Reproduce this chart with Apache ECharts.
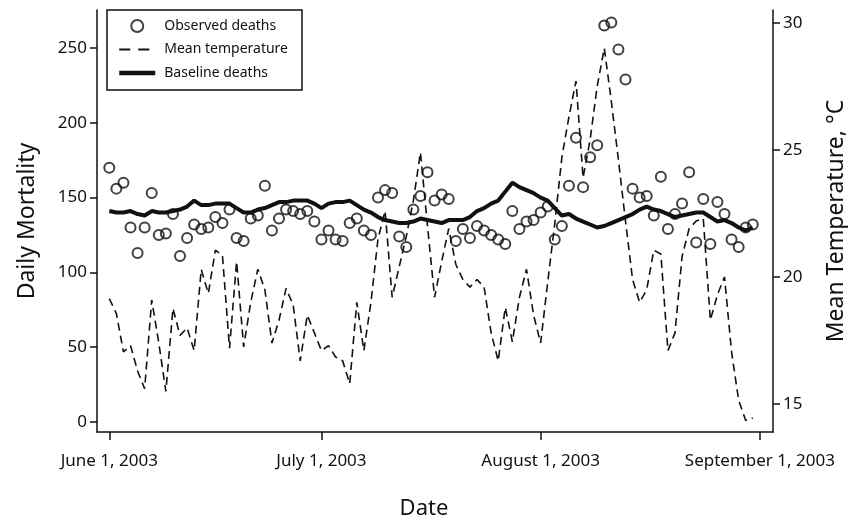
<!DOCTYPE html>
<html><head><meta charset="utf-8">
<script src="https://cdn.jsdelivr.net/npm/echarts@6/dist/echarts.min.js"></script>
<style>html,body{margin:0;padding:0;background:#fff}#c{width:848px;height:521px}</style>
</head><body><div id="c"></div>
<script>
// ---- data ----
const startDate = '2003-06-01'; // one value per day, June 1 .. August 31, 2003
const observedDeaths = [170,156,160,130,113,130,153,125,126,139,111,123,132,129,130,137,133,142,123,121,136,138,158,128,136,142,141,139,141,134,
  122,128,122,121,133,136,128,125,150,155,153,124,117,142,151,167,148,152,149,121,129,123,131,128,125,122,119,141,129,134,135,
  140,144,122,131,158,190,157,177,185,265,267,249,229,156,150,151,138,164,129,139,146,167,120,149,119,147,139,122,117,130,132];
const meanTemperature = [19.15,18.56,17.05,17.3,16.3,15.6,19.1,17.4,15.5,18.76,17.7,18.0,17.1,20.3,19.35,21.05,20.85,17.2,20.6,17.25,19.0,20.3,19.5,17.4,18.3,19.55,18.9,16.7,18.5,17.8,
  17.1,17.3,16.85,16.7,15.8,19.0,17.1,19.0,21.5,22.6,19.2,20.4,21.6,23.0,24.9,22.0,19.2,20.6,21.9,20.5,19.9,19.6,19.9,19.6,17.8,16.7,18.8,17.45,19.2,20.3,18.5,
  17.4,19.8,22.1,24.7,26.3,27.7,23.9,25.4,27.5,29.0,26.9,24.6,22.2,19.9,19.0,19.5,21.05,20.9,17.1,17.8,20.8,21.9,22.2,22.3,18.3,19.3,20.0,17.05,15.15,14.35,14.45];
const baselineDeaths = [141,140,140,141,139,138,141,140,140,141,142,144,148,145,145,146,146,146,143,140,140,142,143,145,147,147,148,148,148,146,
  143,146,147,147,148,145,142,140,137,135,134,133,133,134,136,135,134,133,135,135,135,137,141,143,146,148,154,160,157,155,153,
  150,148,143,138,139,136,134,132,130,131,133,135,137,139,142,144,142,141,139,137,138,139,140,140,137,134,135,133,130,128,130];
const tickDates = ['2003-06-01','2003-07-01','2003-08-01','2003-09-01'];
const tickLabels = ['June 1, 2003','July 1, 2003','August 1, 2003','September 1, 2003'];
const mortalityTicks = [0,50,100,150,200,250];
const temperatureTicks = [15,20,25,30];

// ---- build (x = days since startDate) ----
const DAY = 86400000;
const t0 = Date.parse(startDate + 'T00:00:00Z');
const tickDays = tickDates.map(d => Math.round((Date.parse(d + 'T00:00:00Z') - t0) / DAY));
const pair = arr => arr.map((v, i) => [i, v]);

const FONT = 'Noto Sans';
const INK = '#111';
const chart = echarts.init(document.getElementById('c'), null, {renderer: 'canvas'});
const axisCommon = {
  axisLine: {show: true, onZero: false, lineStyle: {color: INK, width: 1.5}},
  splitLine: {show: false},
};
const hideSymbol = {color: 'rgba(0,0,0,0)', borderWidth: 0, opacity: 0};
chart.setOption({
  animation: false,
  backgroundColor: '#fff',
  textStyle: {fontFamily: FONT, color: INK},
  grid: {left: 97, right: 75, top: 10, bottom: 89, containLabel: false, outerBoundsMode: 'none'},
  legend: {
    orient: 'vertical', left: 107, top: 10,
    padding: [9, 14, 10, 10], itemGap: 9.5,
    itemWidth: 36, itemHeight: 12,
    borderColor: INK, borderWidth: 1.5, backgroundColor: '#fff',
    textStyle: {fontFamily: FONT, fontSize: 14, lineHeight: 14, color: INK, padding: [0, 0, 0, 4]},
    data: [
      {name: 'Observed deaths'},
      {name: 'Mean temperature', itemStyle: hideSymbol, lineStyle: {width: 1.8, type: [11, 8]}},
      {name: 'Baseline deaths', itemStyle: hideSymbol, lineStyle: {width: 4.5}}
    ]
  },
  xAxis: Object.assign({}, axisCommon, {
    type: 'value',
    min: -1.74,
    max: tickDays[3] + 1.86,
    axisTick: {show: true, customValues: tickDays, length: 8, lineStyle: {color: INK, width: 1.5}},
    axisLabel: {customValues: tickDays, fontSize: 17, color: INK, margin: 21, fontFamily: FONT,
      formatter: v => tickLabels[tickDays.indexOf(v)] || ''},
    name: 'Date', nameLocation: 'middle', nameGap: 66,
    nameTextStyle: {fontSize: 22, color: INK, fontFamily: FONT, padding: [0, 22, 0, 0]}
  }),
  yAxis: [
    Object.assign({}, axisCommon, {
      type: 'value', position: 'left', min: -6.68, max: 275.4,
      axisTick: {show: true, customValues: mortalityTicks, length: 7, lineStyle: {color: INK, width: 1.5}},
      axisLabel: {customValues: mortalityTicks, fontSize: 17, color: INK, margin: 10, fontFamily: FONT},
      name: 'Daily Mortality', nameLocation: 'middle', nameGap: 58,
      nameTextStyle: {fontSize: 23, color: INK, fontFamily: FONT}
    }),
    Object.assign({}, axisCommon, {
      type: 'value', position: 'right', min: 13.90, max: 30.50,
      axisTick: {show: true, customValues: temperatureTicks, length: 7, lineStyle: {color: INK, width: 1.5}},
      axisLabel: {customValues: temperatureTicks, fontSize: 17, color: INK, margin: 10, fontFamily: FONT},
      name: 'Mean Temperature, °C', nameLocation: 'middle', nameGap: 52,
      nameTextStyle: {fontSize: 23, color: INK, fontFamily: FONT}
    })
  ],
  series: [
    {
      name: 'Observed deaths', type: 'scatter', yAxisIndex: 0,
      symbol: 'circle', symbolSize: 10,
      itemStyle: {color: 'rgba(255,255,255,0)', borderColor: INK, borderWidth: 2},
      data: pair(observedDeaths), z: 3
    },
    {
      name: 'Mean temperature', type: 'line', yAxisIndex: 1,
      symbol: 'none', showSymbol: false,
      lineStyle: {color: INK, width: 1.6, type: [8, 5]},
      itemStyle: {color: INK},
      data: pair(meanTemperature), z: 2
    },
    {
      name: 'Baseline deaths', type: 'line', yAxisIndex: 0,
      symbol: 'none', showSymbol: false,
      lineStyle: {color: INK, width: 4},
      itemStyle: {color: INK},
      data: pair(baselineDeaths), z: 4
    }
  ]
});
</script>
</body></html>
